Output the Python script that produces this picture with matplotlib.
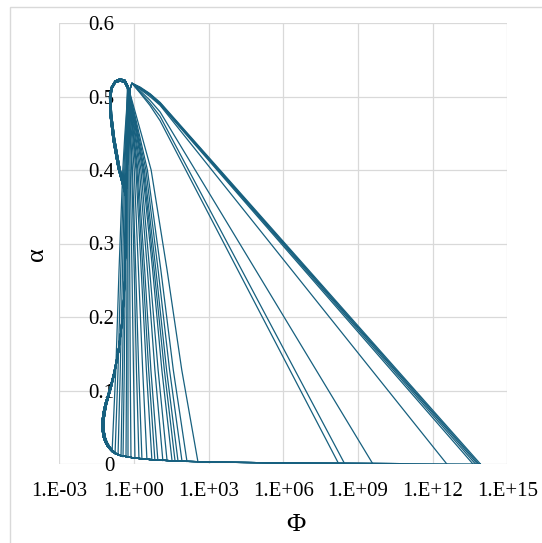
import numpy as np
import matplotlib.pyplot as plt
from matplotlib.patches import Rectangle

# lower return branch + rising branch (log10 Phi, alpha), read right -> left, then up
base_L = [13.9, 10.68, 5.98, 3.01, 1.65, 0.64, 0.0, -0.56, -0.76, -0.92, -1.06, -1.16, -1.23, -1.27,
          -1.29, -1.27, -1.23, -1.16, -1.06, -0.94, -0.80, -0.64, -0.52, -0.44, -0.38, -0.34, -0.32, -0.32]
base_a = [0.0, 0.0005, 0.0014, 0.0027, 0.0041, 0.0061, 0.0082, 0.0116, 0.0143, 0.0184, 0.0238, 0.0299, 0.0367, 0.0449,
          0.0531, 0.0612, 0.0707, 0.0816, 0.0925, 0.106, 0.125, 0.152, 0.182, 0.210, 0.244, 0.284, 0.325, 0.363]
base2_L = [13.9, 10.68, 5.98, 3.01, 1.65, 0.64, 0.0, -0.54, -0.72, -0.86, -0.99, -1.09, -1.16, -1.20,
           -1.22, -1.20, -1.16, -1.10, -1.01, -0.90, -0.77, -0.62, -0.51, -0.43, -0.37, -0.34, -0.32, -0.32]

# upper branches
bulge_L = [-0.64, -0.84, -0.96, -0.98, -0.92, -0.76, -0.56, -0.36, -0.24]
bulge_a = [0.403, 0.441, 0.475, 0.499, 0.512, 0.521, 0.524, 0.522, 0.514]
bulge2_L = [-0.58, -0.78, -0.90, -0.93, -0.88, -0.74, -0.55, -0.38, -0.26]
bulge2_a = [0.405, 0.443, 0.476, 0.499, 0.511, 0.519, 0.521, 0.519, 0.511]
inner_L = [-0.28, -0.24, -0.21, -0.17, -0.12]
inner_a = [0.414, 0.468, 0.492, 0.500, 0.497]
peak_L = [-0.24, -0.18, -0.16, -0.08]
peak_a = [0.427, 0.482, 0.510, 0.518]

# steep descents: log10 Phi at alpha = 0.48, 0.446, 0.40, 0.264, 0.128, then the end point
steep_a = [0.48, 0.446, 0.40, 0.264, 0.128]
steep_L0 = [-0.30, -0.29, -0.28, -0.27, -0.26, -0.25, -0.24, -0.23, -0.21, -0.20, -0.18, -0.16,
            -0.14, -0.13, -0.12, -0.10, -0.08, -0.06, -0.05, -0.04, -0.02, 0.00, 0.04]
steep_L1 = [-0.37, -0.34, -0.32, -0.30, -0.28, -0.26, -0.24, -0.22, -0.18, -0.15, -0.13, -0.09,
            -0.05, -0.02, 0.00, 0.04, 0.07, 0.11, 0.14, 0.16, 0.19, 0.23, 0.32]
steep_L2 = [-0.45, -0.41, -0.37, -0.33, -0.31, -0.27, -0.24, -0.20, -0.15, -0.09, -0.06, 0.01,
            0.08, 0.12, 0.16, 0.22, 0.28, 0.34, 0.38, 0.42, 0.48, 0.54, 0.69]
steep_L3 = [-0.60, -0.53, -0.46, -0.40, -0.35, -0.28, -0.24, -0.17, -0.08, 0.01, 0.07, 0.18,
            0.29, 0.36, 0.43, 0.54, 0.63, 0.75, 0.81, 0.88, 0.97, 1.08, 1.33]
steep_L4 = [-0.73, -0.64, -0.55, -0.46, -0.39, -0.30, -0.24, -0.15, -0.02, 0.10, 0.19, 0.35,
            0.50, 0.59, 0.68, 0.84, 0.97, 1.12, 1.22, 1.31, 1.43, 1.58, 1.92]
steep_end_L = [-0.88, -0.76, -0.64, -0.52, -0.44, -0.32, -0.24, -0.12, 0.04, 0.20, 0.32, 0.52,
               0.72, 0.84, 0.96, 1.16, 1.33, 1.53, 1.65, 1.77, 1.93, 2.13, 2.57]
steep_end_a = [0.016, 0.014, 0.012, 0.011, 0.010, 0.0095, 0.009, 0.0087, 0.008, 0.0074, 0.007, 0.0063,
               0.0057, 0.0054, 0.0051, 0.0047, 0.0045, 0.0042, 0.0041, 0.0039, 0.0037, 0.0034, 0.003]
steep_top = [1, 2, 1, 0, 2, 1, 0, 1, 2, 1, 0, 1, 2, 1, 1, 2, 1, 0, 2, 1, 2, 1, 1]

# long descents from the peak: alpha at log10 Phi = 0.24, 0.64, 1.05, then alpha = 0 at the end
big_end_L = [8.23, 8.47, 9.6, 12.57, 13.62, 13.72, 13.8, 13.86, 13.92]
big_a1 = [0.505, 0.506, 0.508, 0.510, 0.511, 0.512, 0.512, 0.512, 0.513]
big_a2 = [0.488, 0.491, 0.495, 0.500, 0.502, 0.503, 0.503, 0.503, 0.504]
big_a3 = [0.467, 0.473, 0.479, 0.488, 0.489, 0.490, 0.491, 0.491, 0.492]

xticks = [-3, 0, 3, 6, 9, 12, 15]
xlabels = ['1.E-03', '1.E+00', '1.E+03', '1.E+06', '1.E+09', '1.E+12', '1.E+15']
yticks = [0, 0.1, 0.2, 0.3, 0.4, 0.5, 0.6]
ylabels = ['0', '0.1', '0.2', '0.3', '0.4', '0.5', '0.6']

col = '#17607f'
plt.rcParams['font.family'] = ['Liberation Serif', 'DejaVu Serif']

fig = plt.figure(figsize=(5.42, 5.43), dpi=100)
ax = fig.add_axes([59.3 / 542, 79 / 543, 448 / 542, 441 / 543])


def lower(end_L, k):
    bl = base_L if k % 2 == 0 else base2_L
    i = 0
    while i < 8 and bl[i] >= end_L:
        i += 1
    return bl[i:], base_a[i:]


tops = {0: (inner_L, inner_a), 1: (bulge_L, bulge_a), 2: (bulge2_L, bulge2_a)}

for k in range(len(steep_end_L)):
    L1, a1 = lower(steep_end_L[k], k)
    tL, ta = tops[steep_top[k]]
    L = list(L1) + tL + [steep_L0[k], steep_L1[k], steep_L2[k], steep_L3[k], steep_L4[k], steep_end_L[k]]
    a = list(a1) + ta + steep_a + [steep_end_a[k]]
    ax.plot(10 ** np.array(L), a, color=col, lw=0.9)

for k in range(len(big_end_L)):
    L1, a1 = lower(big_end_L[k], k)
    L = list(L1) + peak_L + [0.24, 0.64, 1.05, big_end_L[k]]
    a = list(a1) + peak_a + [big_a1[k], big_a2[k], big_a3[k], 0.0]
    ax.plot(10 ** np.array(L), a, color=col, lw=0.9)

ax.set_xscale('log')
ax.set_xlim(1e-3, 1e15)
ax.set_ylim(0, 0.6)
ax.set_xticks([10.0 ** t for t in xticks])
ax.set_xticklabels(xlabels)
ax.xaxis.set_minor_locator(plt.NullLocator())
ax.set_yticks(yticks)
ax.set_yticklabels(ylabels)
ax.grid(True, color='#d9d9d9', lw=0.9)
ax.set_axisbelow(True)
for s in ['top', 'right', 'bottom']:
    ax.spines[s].set_visible(False)
ax.spines['left'].set_position(('data', 1.0))
ax.spines['left'].set_color('none')
ax.tick_params(axis='both', length=0, labelsize=15)
ax.tick_params(axis='y', pad=14)
ax.tick_params(axis='x', pad=13)

fig.text(296 / 542, 1 - 525 / 543, 'Φ', ha='center', va='center', fontsize=19)
fig.text(37 / 542, 1 - 254 / 543, 'α', ha='center', va='center', fontsize=19, rotation=90)
fig.patches.append(Rectangle((10 / 542, -0.1), 2, 1 - 7 / 543 + 0.1, transform=fig.transFigure,
                             fill=False, edgecolor='#d9d9d9', lw=1))

fig.savefig('out.png', dpi=100)
